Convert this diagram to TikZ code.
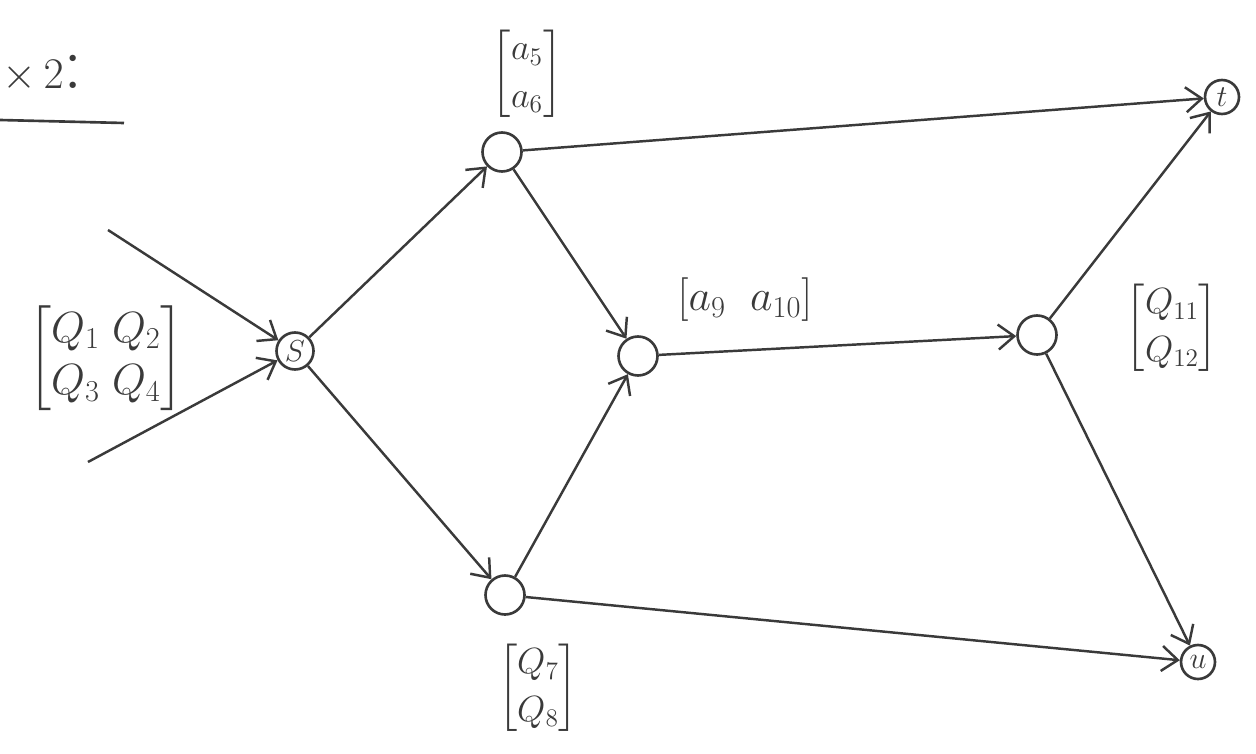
\documentclass[tikz,border=0pt]{standalone}
\usepackage{amsmath}
\usetikzlibrary{arrows.meta}
\definecolor{inkc}{HTML}{3A3A3A}
\begin{document}
\begin{tikzpicture}[x=0.02cm,y=-0.02cm,
  vtx/.style={circle, draw=inkc, line width=1.5pt, minimum size=0.78cm, inner sep=0pt, text=inkc, font=\fontsize{17}{20}\selectfont},
  edge/.style={draw=inkc, line width=1.4pt, -{Straight Barb[length=0.32cm,width=0.5cm,line width=1.4pt]}},
  lab/.style={text=inkc, font=\fontsize{22}{27}\selectfont, inner sep=0pt}]
\useasboundingbox (0,0) rectangle (1256,753);
% title
\node[text=inkc, font=\fontsize{44}{50}\selectfont, inner sep=0pt, anchor=west] (title) at (2,74) {$\times\,2$:};
\coordinate (ul1) at (0,120);
\coordinate (ul2) at (124,123);
\draw[draw=inkc, line width=1.5pt] (ul1) -- (ul2);
% vertices
\node[vtx, minimum size=0.74cm] (s) at (295,351) {$S$};
\node[vtx] (a) at (502,152) {};
\node[vtx] (c) at (638,356) {};
\node[vtx] (b) at (505,595) {};
\node[vtx] (d) at (1037,335) {};
\node[vtx, minimum size=0.68cm] (t) at (1222,97) {$t$};
\node[vtx, minimum size=0.68cm] (u) at (1198,662) {$u$};
\coordinate (in1) at (108,230);
\coordinate (in2) at (88,462);
% labels
\node[lab, font=\fontsize{24}{30}\selectfont] (l1) at (106,358) {$\begin{bmatrix} Q_1 \; Q_2\\ Q_3 \; Q_4\end{bmatrix}$};
\node[lab] (l2) at (527,74) {$\begin{bmatrix} a_5\\ a_6\end{bmatrix}$};
\node[lab, font=\fontsize{24}{30}\selectfont] (l3) at (745,300) {$[a_9\;\; a_{10}]$};
\node[lab] (l4) at (1172,328) {$\begin{bmatrix} Q_{11}\\ Q_{12}\end{bmatrix}$};
\node[lab] (l5) at (538,688) {$\begin{bmatrix} Q_7\\ Q_8\end{bmatrix}$};
% edges
\draw[edge] (in1) -- (s);
\draw[edge] (in2) -- (s);
\draw[edge] (s) -- (a);
\draw[edge] (s) -- (b);
\draw[edge] (a) -- (t);
\draw[edge] (a) -- (c);
\draw[edge] (b) -- (c);
\draw[edge] (c) -- (d);
\draw[edge] (b) -- (u);
\draw[edge] (d) -- (t);
\draw[edge] (d) -- (u);
\end{tikzpicture}
\end{document}
